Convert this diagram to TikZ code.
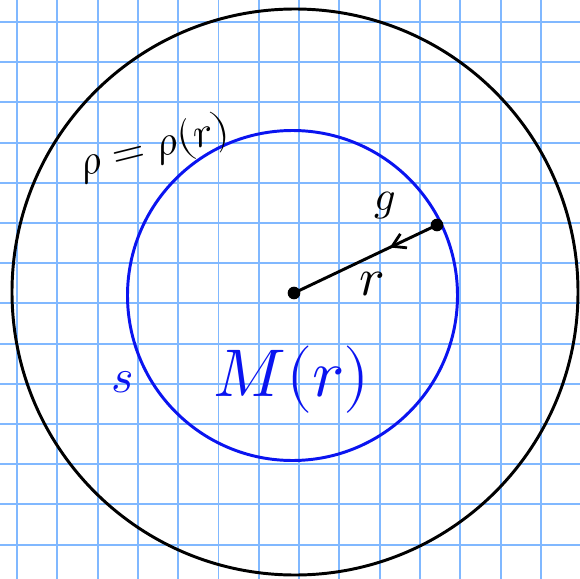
\documentclass[tikz,border=0pt]{standalone}
\usepackage{unicode-math}
\usetikzlibrary{arrows.meta,decorations.markings}
\definecolor{gridBlue}{RGB}{128,184,255}
\definecolor{penBlue}{RGB}{10,20,240}

\begin{document}
\begin{tikzpicture}[x=0.025cm,y=-0.025cm,
      gridline/.style={draw=gridBlue,line width=1.4pt},
      pen/.style={line width=2.1pt,line cap=round},
      dot/.style={circle,fill=black,inner sep=0pt,minimum size=9pt},
      lbl/.style={inner sep=0pt}]
    \fill[white] (0,0) rectangle (580,579);
    \useasboundingbox (0,0) rectangle (580,579);
    % squared paper
    \foreach \k in {0,...,13} \draw[gridline] ({17+40.3*\k},0) -- ({17+40.3*\k},579);
    \foreach \k in {0,...,13} \draw[gridline] (0,{22+40.2*\k}) -- (580,{22+40.2*\k});
    % sphere and shell
    \draw[pen,black] (295,292) circle[radius=283];
    \draw[pen,penBlue] (292.5,295.5) circle[radius=165];
    \coordinate (ctr) at (294,293);
    \coordinate (surf) at (437,225);
    \draw[pen,postaction={decorate},
          decoration={markings,mark=at position 0.33 with {\arrow{Straight Barb[length=9pt,width=11pt,line width=2pt]}}}]
      (surf) -- (ctr);
    \node[dot] (ctrdot) at (ctr) {};
    \node[dot] (surfdot) at (surf) {};
    % labels
    \node[lbl,rotate=14,font=\fontsize{30}{30}\selectfont] (rho) at (154,148) {$\rho=\rho(r)$};
    \node[lbl,font=\fontsize{30}{30}\selectfont] (grav) at (385,205) {$g$};
    \node[lbl,font=\fontsize{38}{38}\selectfont] (rad) at (372,284) {$r$};
    \node[lbl,text=penBlue,font=\fontsize{34}{34}\selectfont] (surflbl) at (123,382) {$s$};
    \node[lbl,text=penBlue,font=\fontsize{48}{48}\selectfont] (mass) at (292,380) {$M(r)$};
  \end{tikzpicture}
\end{document}
